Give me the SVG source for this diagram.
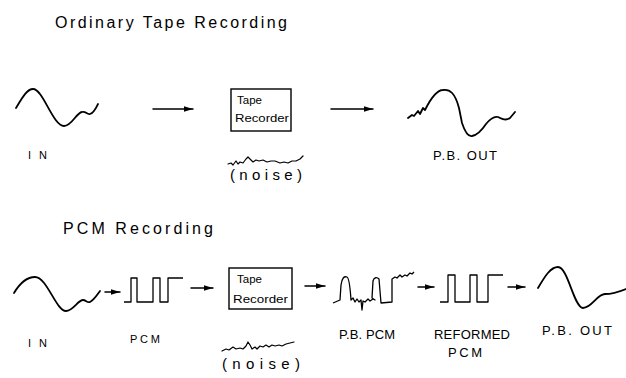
<svg xmlns="http://www.w3.org/2000/svg" width="626" height="378" viewBox="0 0 626 378">
<style>
.w{fill:none;stroke:#000;stroke-width:1.8;stroke-linecap:round;stroke-linejoin:round}
.t{fill:none;stroke:#000;stroke-width:1.3;stroke-linejoin:round}
.n{fill:none;stroke:#000;stroke-width:1.2;stroke-linecap:round;stroke-linejoin:round}
.a{fill:none;stroke:#000;stroke-width:1.5;stroke-linecap:round}
.b{fill:none;stroke:#000;stroke-width:1.4}
text{font-family:"Liberation Sans",Arial,sans-serif;fill:#000}
.h{font-size:16px}
.l{font-size:13px}
.s{font-size:11px}
.z{font-size:15px}
.bx{font-size:11.5px}
</style>
<defs>
<marker id="ah" markerUnits="userSpaceOnUse" markerWidth="10" markerHeight="8" refX="9" refY="4" orient="auto">
<path d="M0,1.2 L9,4 L0,6.8 Z" fill="#000"/>
</marker>
</defs>
<rect width="626" height="378" fill="#fff"/>
<text class="h" x="55" y="28" textLength="232" lengthAdjust="spacing">Ordinary Tape Recording</text>
<text class="h" x="63" y="234" textLength="150" lengthAdjust="spacing">PCM Recording</text>

<g id="in-top">
<path class="w" d="M16,108 C22,98 27,89 33,89 C43,89 53,126 64,126 C72,126 76,113 82,112 C86,111 87,115 90,114 C94,113 96,108 98,104"/>
<text class="s" x="28" y="159" textLength="19" lengthAdjust="spacing">IN</text>
</g>
<g id="recorder-top">
<rect class="b" x="231" y="89" width="60" height="42"/>
<text class="bx" x="237" y="104">Tape</text>
<text class="bx" x="235" y="122" textLength="54" lengthAdjust="spacingAndGlyphs">Recorder</text>
<path class="n" d="M228,164 l3,-1 l2,2 l3,-4 l2,3 l2,-2 l3,1 l3,-4 l2,-2 l3,3 l2,2 l3,-2 l3,1 l4,-1 l4,2 l4,-1 l4,0 l5,2 l4,-1 l4,1 l4,-2 l4,0 l4,-2 l3,-3"/>
<text class="z" x="230" y="180" textLength="72" lengthAdjust="spacing">(noise)</text>
</g>
<g id="out-top">
<path class="w" d="M408,118 l4,-3 l2,1 l4,-5 l2,3 l3,-6 l2,2 C430,100 436,90 443,90 C450,89 455,93 459,108 L462,123 C465,132 468,137 472,136 C478,135 482,130 486,124 C490,119 494,116 498,117 C502,119 506,121 510,118 L515,112"/>
<text class="l" x="433" y="160" textLength="64" lengthAdjust="spacing">P.B. OUT</text>
</g>

<g id="in-pcm">
<path class="w" d="M14,293 C20,283 27,277 35,277 C47,277 56,311 66,311 C73,311 78,300 83,300 C86,300 87,303 90,302 C94,300 97,295 100,291"/>
<text class="s" x="28" y="347" textLength="19" lengthAdjust="spacing">IN</text>
</g>
<g id="pcm">
<path class="t" d="M124,302 H131 V278 H137 V302 H153 V278 H160 V302 H168 V278 H183"/>
<text class="s" x="130" y="343" textLength="30" lengthAdjust="spacing">PCM</text>
</g>
<g id="recorder-pcm">
<rect class="b" x="229" y="268" width="63" height="41"/>
<text class="bx" x="237" y="283">Tape</text>
<text class="bx" x="233" y="303" textLength="55" lengthAdjust="spacingAndGlyphs">Recorder</text>
<path class="n" d="M222,351 l4,-2 l3,1 l4,-3 l3,2 l4,-1 l3,1 l3,-3 l2,-4 l2,3 l2,4 l3,-2 l2,2 l3,-3 l3,1 l3,-2 l3,2 l3,-2 l3,1 l4,-1 l3,1 l4,-2 l4,-1 l4,-1"/>
<text class="z" x="222" y="369" textLength="78" lengthAdjust="spacing">(noise)</text>
</g>
<g id="pb-pcm">
<path class="t" d="M333,303 L340,300 L341,285 C342,278 344,276 347,277 C349,278 350,285 351,300 l2,-2 l2,4 l2,-3 l2,3 l2,-2 l1,10 l1,-9 l2,1 l3,-3 l2,2 l3,-2 l2,1 L372,298 L373,281 C374,277 377,277 379,279 L381,303 L392,302 L392,279 l3,-2 l2,1 l3,-3 l2,2 l3,-2 l2,1 l3,-3 l2,1 l2,-2"/>
<text class="l" x="339" y="339" textLength="56" lengthAdjust="spacing">P.B. PCM</text>
</g>
<g id="reformed-pcm">
<path class="t" d="M440,302 H448 V275 H455 V302 H470 V275 H477 V302 H488 V275 H503"/>
<text class="l" x="434" y="339" textLength="76" lengthAdjust="spacing">REFORMED</text>
<text class="l" x="448" y="357" textLength="34" lengthAdjust="spacing">PCM</text>
</g>
<g id="out-pcm">
<path class="w" d="M538,288 C544,278 550,267 558,267 C568,267 574,308 583,308 C592,308 597,294 605,294 C612,294 616,293 626,289"/>
<text class="l" x="542" y="335" textLength="70" lengthAdjust="spacing">P.B. OUT</text>
</g>

<g id="connectors">
<line class="a" x1="153" y1="109" x2="193" y2="109" marker-end="url(#ah)"/>
<line class="a" x1="331" y1="109" x2="373" y2="109" marker-end="url(#ah)"/>
<line class="a" x1="105" y1="292" x2="120" y2="292" marker-end="url(#ah)"/>
<line class="a" x1="191" y1="288" x2="213" y2="288" marker-end="url(#ah)"/>
<line class="a" x1="305" y1="286" x2="325" y2="286" marker-end="url(#ah)"/>
<line class="a" x1="418" y1="287" x2="434" y2="287" marker-end="url(#ah)"/>
<line class="a" x1="508" y1="287" x2="525" y2="287" marker-end="url(#ah)"/>
</g>
</svg>
